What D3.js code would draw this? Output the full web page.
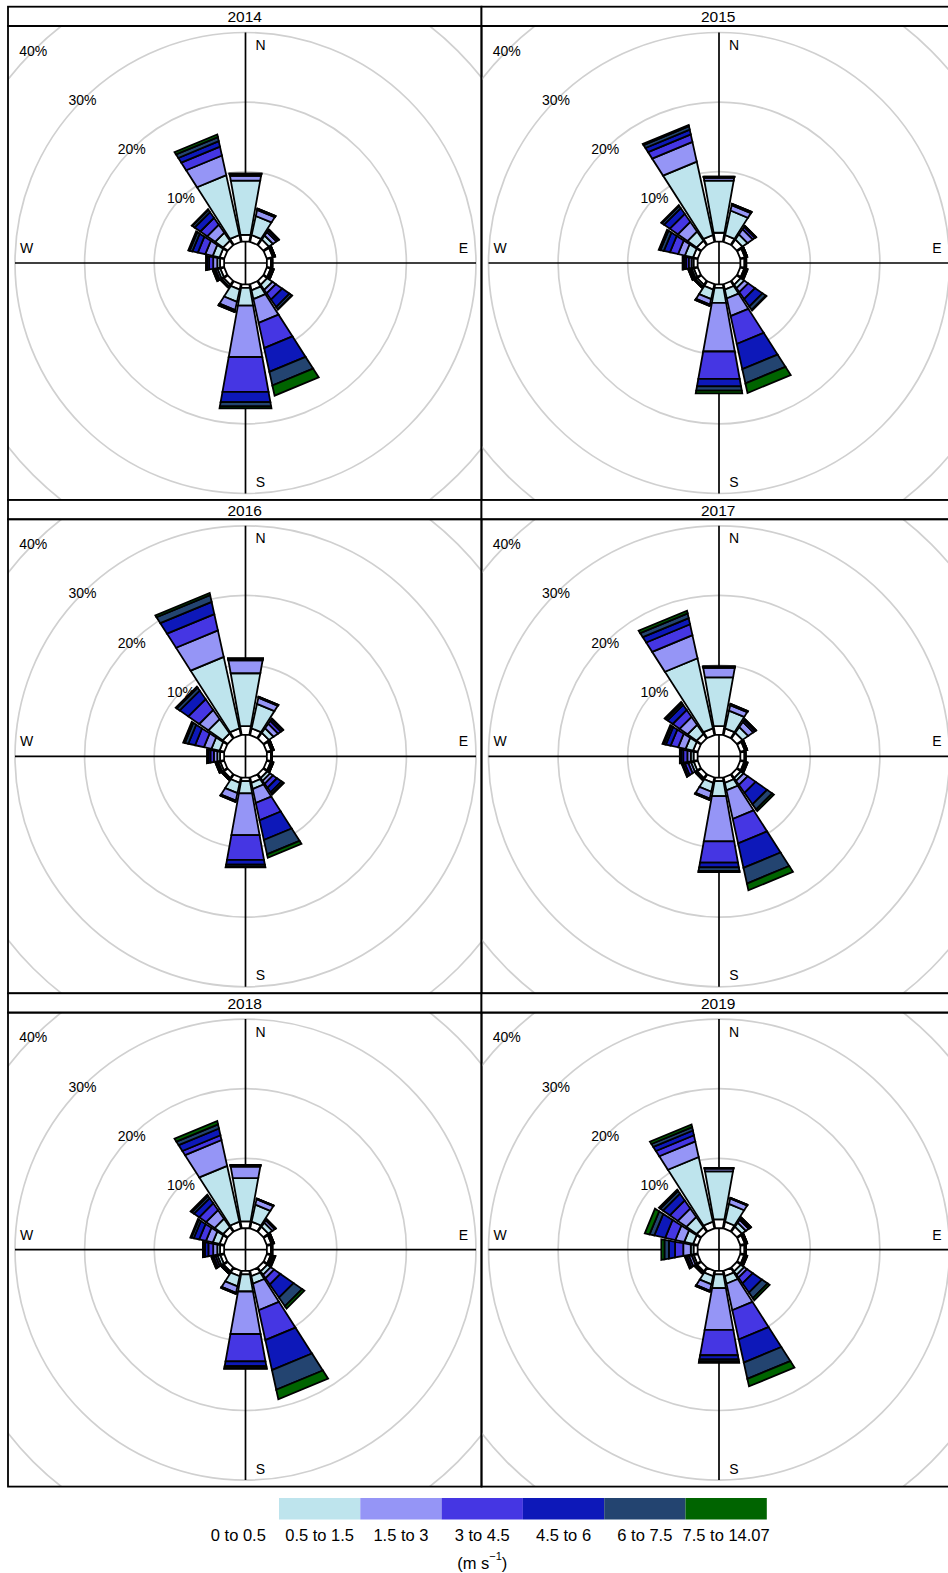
<!DOCTYPE html>
<html>
<head>
<meta charset="utf-8">
<script src="https://cdn.jsdelivr.net/npm/d3@7"></script>
<style>
  body { margin: 0; background: #fff; }
  text { font-family: "Liberation Sans", Arial, sans-serif; fill: #000; }
</style>
</head>
<body>
<svg id="chart" width="948" height="1573"></svg>
<script>
// Wind direction sectors (degrees clockwise from north), 16 sectors of 22.5°
const directions = [0, 22.5, 45, 67.5, 90, 112.5, 135, 157.5, 180, 202.5, 225, 247.5, 270, 292.5, 315, 337.5];
const speedBins = ["0 to 0.5", "0.5 to 1.5", "1.5 to 3", "3 to 4.5", "4.5 to 6", "6 to 7.5", "7.5 to 14.07"];
const binColours = ["#FFFFFF", "#BEE4ED", "#9595F6", "#4536E3", "#0D18B9", "#234470", "#006400"];
const years = ["2014", "2015", "2016", "2017", "2018", "2019"];
const gridBreaks = [10, 20, 30, 40];
const compassLabels = ["N", "E", "S", "W"];

// Cumulative frequency (%) by speed bin, one row per direction (N, NNE, ... NNW)
const rose2014 = [
  [1.0, 8.9, 9.6, 9.75, 9.85, 9.9, 9.95],
  [1.0, 3.8, 4.7, 4.8, 4.85, 4.9, 4.9],
  [1.0, 1.7, 2.3, 2.6, 2.7, 2.75, 2.75],
  [0.9, 1.15, 1.2, 1.25, 1.25, 1.25, 1.25],
  [0.6, 0.7, 0.75, 0.8, 0.8, 0.8, 0.8],
  [0.6, 0.8, 0.9, 1.0, 1.05, 1.05, 1.05],
  [0.7, 1.6, 2.2, 3.3, 4.6, 5.0, 5.05],
  [0.9, 2.2, 5.7, 9.4, 12.9, 14.9, 16.4],
  [0.5, 3.1, 10.6, 15.7, 17.2, 17.8, 18.1],
  [0.8, 2.6, 3.8, 3.95, 4.05, 4.1, 4.1],
  [0.7, 1.0, 1.1, 1.2, 1.2, 1.2, 1.2],
  [0.6, 1.0, 1.3, 1.5, 1.6, 1.7, 1.7],
  [0.6, 1.0, 1.6, 2.2, 2.5, 2.6, 2.65],
  [0.7, 1.7, 2.8, 3.9, 4.7, 5.1, 5.3],
  [0.8, 2.2, 3.6, 4.8, 5.8, 6.2, 6.3],
  [1.0, 9.8, 12.7, 14.0, 14.8, 15.4, 15.8]
];
const rose2015 = [
  [1.3, 8.9, 9.3, 9.4, 9.45, 9.5, 9.5],
  [1.0, 4.6, 5.4, 5.5, 5.55, 5.6, 5.6],
  [1.0, 1.9, 2.8, 3.2, 3.35, 3.4, 3.4],
  [0.7, 0.9, 1.0, 1.05, 1.05, 1.05, 1.05],
  [0.6, 0.75, 0.8, 0.85, 0.85, 0.85, 0.85],
  [0.6, 0.8, 0.9, 1.0, 1.05, 1.1, 1.1],
  [0.7, 1.3, 2.0, 3.2, 4.5, 5.1, 5.2],
  [0.8, 2.1, 4.7, 8.8, 12.5, 14.6, 16.0],
  [0.5, 2.7, 9.8, 13.8, 14.9, 15.5, 15.9],
  [0.8, 2.2, 3.0, 3.1, 3.15, 3.2, 3.2],
  [0.7, 1.0, 1.1, 1.15, 1.2, 1.2, 1.2],
  [0.6, 0.9, 1.1, 1.3, 1.35, 1.4, 1.4],
  [0.6, 0.9, 1.3, 1.7, 2.0, 2.15, 2.2],
  [0.7, 1.9, 2.9, 4.1, 5.0, 5.5, 5.75],
  [0.8, 2.4, 4.1, 5.5, 6.5, 6.9, 7.0],
  [1.0, 11.8, 14.7, 15.8, 16.5, 17.0, 17.2]
];
const rose2016 = [
  [1.3, 9.0, 10.9, 11.0, 11.1, 11.15, 11.2],
  [1.0, 4.6, 5.5, 5.6, 5.62, 5.65, 5.65],
  [1.0, 1.8, 2.6, 3.1, 3.4, 3.5, 3.5],
  [0.7, 0.9, 1.0, 1.05, 1.05, 1.05, 1.05],
  [0.6, 0.7, 0.75, 0.75, 0.75, 0.75, 0.75],
  [0.6, 0.8, 0.9, 0.95, 1.0, 1.0, 1.0],
  [0.7, 1.2, 1.7, 2.4, 3.2, 3.5, 3.6],
  [0.8, 1.7, 3.75, 6.3, 9.2, 11.3, 11.8],
  [0.5, 2.3, 8.4, 12.0, 12.7, 13.0, 13.1],
  [0.8, 2.3, 3.4, 3.5, 3.55, 3.6, 3.6],
  [0.7, 0.9, 1.0, 1.0, 1.0, 1.0, 1.0],
  [0.6, 0.9, 1.1, 1.2, 1.25, 1.3, 1.3],
  [0.6, 1.0, 1.5, 2.0, 2.3, 2.45, 2.5],
  [0.7, 1.9, 3.0, 4.3, 5.3, 5.8, 6.05],
  [0.9, 3.4, 5.0, 6.9, 8.4, 8.9, 9.1],
  [1.0, 11.5, 15.4, 17.8, 19.6, 20.6, 20.9]
];
const rose2017 = [
  [1.3, 8.4, 9.8, 9.9, 9.95, 10.0, 10.0],
  [1.0, 3.6, 4.4, 4.5, 4.55, 4.6, 4.6],
  [1.0, 2.0, 2.9, 3.2, 3.35, 3.4, 3.4],
  [0.7, 0.9, 1.0, 1.05, 1.05, 1.05, 1.05],
  [0.6, 0.7, 0.75, 0.75, 0.75, 0.75, 0.75],
  [0.6, 0.8, 0.9, 1.0, 1.05, 1.1, 1.1],
  [0.7, 1.2, 1.9, 3.3, 5.3, 6.2, 6.5],
  [0.8, 1.9, 6.1, 9.7, 13.3, 15.6, 16.6],
  [0.5, 2.7, 9.3, 12.4, 13.1, 13.6, 13.8],
  [0.8, 2.1, 3.1, 3.2, 3.25, 3.3, 3.3],
  [0.7, 0.9, 1.0, 1.0, 1.0, 1.0, 1.0],
  [0.6, 1.0, 1.4, 1.9, 2.2, 2.3, 2.35],
  [0.6, 1.0, 1.5, 2.1, 2.4, 2.55, 2.6],
  [0.7, 1.8, 2.9, 4.0, 4.7, 5.0, 5.2],
  [0.8, 2.4, 3.8, 5.0, 5.9, 6.2, 6.4],
  [1.0, 11.3, 14.7, 16.3, 17.2, 17.9, 18.3]
];
const rose2018 = [
  [1.0, 7.3, 9.0, 9.1, 9.15, 9.2, 9.25],
  [1.0, 3.5, 4.3, 4.35, 4.4, 4.4, 4.4],
  [0.9, 1.6, 2.0, 2.1, 2.15, 2.2, 2.2],
  [0.7, 0.9, 1.0, 1.05, 1.1, 1.1, 1.1],
  [0.6, 0.7, 0.75, 0.8, 0.8, 0.8, 0.8],
  [0.6, 0.8, 1.0, 1.1, 1.2, 1.25, 1.3],
  [0.7, 1.3, 1.9, 3.0, 5.3, 6.8, 7.2],
  [0.8, 1.9, 5.8, 10.2, 14.6, 17.5, 18.9],
  [0.5, 3.0, 9.2, 13.2, 13.9, 14.2, 14.3],
  [0.8, 2.3, 3.25, 3.3, 3.35, 3.4, 3.4],
  [0.7, 0.9, 1.0, 1.05, 1.1, 1.1, 1.1],
  [0.6, 1.0, 1.3, 1.6, 1.8, 1.9, 1.9],
  [0.6, 1.0, 1.6, 2.3, 2.8, 3.0, 3.1],
  [0.7, 1.7, 2.7, 3.7, 4.5, 4.85, 5.0],
  [0.8, 2.3, 3.8, 5.0, 5.9, 6.3, 6.5],
  [1.0, 9.2, 13.0, 13.7, 14.7, 15.3, 15.8]
];
const rose2019 = [
  [1.3, 8.3, 8.7, 8.75, 8.8, 8.8, 8.8],
  [1.0, 3.6, 4.4, 4.45, 4.5, 4.5, 4.5],
  [0.9, 1.6, 2.1, 2.35, 2.45, 2.5, 2.5],
  [0.7, 0.9, 1.0, 1.05, 1.05, 1.05, 1.05],
  [0.6, 0.7, 0.75, 0.8, 0.8, 0.8, 0.8],
  [0.6, 0.8, 0.9, 0.95, 1.0, 1.05, 1.05],
  [0.7, 1.3, 1.8, 2.8, 4.4, 5.4, 5.75],
  [0.8, 1.9, 5.8, 10.1, 13.5, 15.9, 17.0],
  [0.5, 2.5, 8.6, 12.3, 12.9, 13.2, 13.4],
  [0.8, 2.0, 2.95, 3.0, 3.05, 3.1, 3.1],
  [0.7, 0.9, 1.0, 1.05, 1.1, 1.1, 1.1],
  [0.6, 0.9, 1.3, 1.6, 1.8, 1.85, 1.9],
  [0.6, 1.0, 2.1, 3.3, 4.2, 4.85, 5.3],
  [0.7, 2.0, 3.3, 4.8, 6.4, 7.1, 7.8],
  [0.8, 2.6, 4.1, 5.5, 6.7, 7.15, 7.4],
  [1.0, 10.5, 12.8, 13.7, 14.4, 14.9, 15.3]
];
const roses = [rose2014, rose2015, rose2016, rose2017, rose2018, rose2019];

// ---- layout ----
const svg = d3.select("#chart");
const colX = [8, 481.5];
const panelW = 473.5;
const rowTop = 6.7, rowPitch = 493.3, stripH = 19.3, plotH = 474;
const halfSector = 0.9 * 22.5 / 2;   // sector half-width in degrees

// frequency (%) -> radius in px, with an offset for the calm centre
const radius = d3.scaleLinear().domain([0, 40]).range([21.7, 300.1]);

const toXY = (r, deg) => {
  const a = deg * Math.PI / 180;
  return [r * Math.sin(a), -r * Math.cos(a)];
};
const closedLine = d3.line().curve(d3.curveLinearClosed);

years.forEach((year, p) => {
  const x0 = colX[p % 2];
  const y0 = rowTop + Math.floor(p / 2) * rowPitch;
  const plotY = y0 + stripH;
  const cx = x0 + 237.5, cy = plotY + 237;

  const panel = svg.append("g");
  const clipId = "clip" + year;
  panel.append("clipPath").attr("id", clipId)
    .append("rect").attr("x", x0).attr("y", plotY).attr("width", panelW).attr("height", plotH);

  const plot = panel.append("g").attr("clip-path", `url(#${clipId})`);
  const g = plot.append("g").attr("transform", `translate(${cx},${cy})`);

  // grid rings
  g.selectAll("circle.grid").data(gridBreaks).join("circle")
    .attr("r", d => radius(d))
    .attr("fill", "none").attr("stroke", "#D0D0D0").attr("stroke-width", 1.7);

  // ring labels along the NW diagonal
  g.selectAll("text.ring").data(gridBreaks).join("text")
    .attr("x", d => -radius(d) * Math.SQRT1_2)
    .attr("y", d => -radius(d) * Math.SQRT1_2)
    .attr("text-anchor", "middle").attr("dominant-baseline", "central")
    .attr("font-size", 14).text(d => d + "%");

  // cross axes
  const axisR = radius(30);
  g.append("line").attr("x1", -axisR).attr("x2", axisR).attr("y1", 0).attr("y2", 0)
    .attr("stroke", "#000").attr("stroke-width", 1.7);
  g.append("line").attr("y1", -axisR).attr("y2", axisR).attr("x1", 0).attr("x2", 0)
    .attr("stroke", "#000").attr("stroke-width", 1.7);

  // compass letters
  const compassPos = { N: [15, -218], E: [218, -15], S: [15, 219], W: [-219, -15] };
  compassLabels.forEach(c => {
    g.append("text").attr("x", compassPos[c][0]).attr("y", compassPos[c][1])
      .attr("text-anchor", "middle").attr("dominant-baseline", "central")
      .attr("font-size", 14).text(c);
  });

  // stacked sectors
  const segs = [];
  roses[p].forEach((cum, i) => {
    cum.forEach((v, j) => {
      segs.push({ dir: directions[i], lo: j === 0 ? 0 : cum[j - 1], hi: v, bin: j });
    });
  });
  g.selectAll("path.seg").data(segs).join("path")
    .attr("d", s => {
      const r1 = radius(s.lo), r2 = radius(s.hi);
      return closedLine([
        toXY(r1, s.dir - halfSector), toXY(r1, s.dir + halfSector),
        toXY(r2, s.dir + halfSector), toXY(r2, s.dir - halfSector)
      ]);
    })
    .attr("fill", s => binColours[s.bin])
    .attr("stroke", "#000").attr("stroke-width", 1.8).attr("stroke-linejoin", "miter");

  // strip and borders
  panel.append("rect").attr("x", x0).attr("y", y0).attr("width", panelW).attr("height", stripH)
    .attr("fill", "#fff").attr("stroke", "#000").attr("stroke-width", 1.8);
  panel.append("text").attr("x", x0 + panelW / 2).attr("y", y0 + stripH / 2 + 0.5)
    .attr("text-anchor", "middle").attr("dominant-baseline", "central")
    .attr("font-size", 15.5).text(year);
  panel.append("rect").attr("x", x0).attr("y", plotY).attr("width", panelW).attr("height", plotH)
    .attr("fill", "none").attr("stroke", "#000").attr("stroke-width", 1.8);
});

// ---- legend ----
const legendX = d3.scaleBand().domain(speedBins).range([197.7, 766.8]);
const legend = svg.append("g");
legend.selectAll("rect").data(speedBins).join("rect")
  .attr("x", d => legendX(d)).attr("y", 1498)
  .attr("width", legendX.bandwidth()).attr("height", 21.5)
  .attr("fill", (d, i) => binColours[i]);
legend.selectAll("text.lab").data(speedBins).join("text")
  .attr("x", d => legendX(d) + legendX.bandwidth() / 2).attr("y", 1535)
  .attr("text-anchor", "middle").attr("dominant-baseline", "central")
  .attr("font-size", 16.5).text(d => d);
const units = legend.append("text").attr("x", (197.7 + 766.8) / 2).attr("y", 1563)
  .attr("text-anchor", "middle").attr("dominant-baseline", "central").attr("font-size", 16.5);
units.append("tspan").text("(m s");
units.append("tspan").attr("font-size", 11).attr("dy", -7).text("\u22121");
units.append("tspan").attr("dy", 7).text(")");
</script>
</body>
</html>
